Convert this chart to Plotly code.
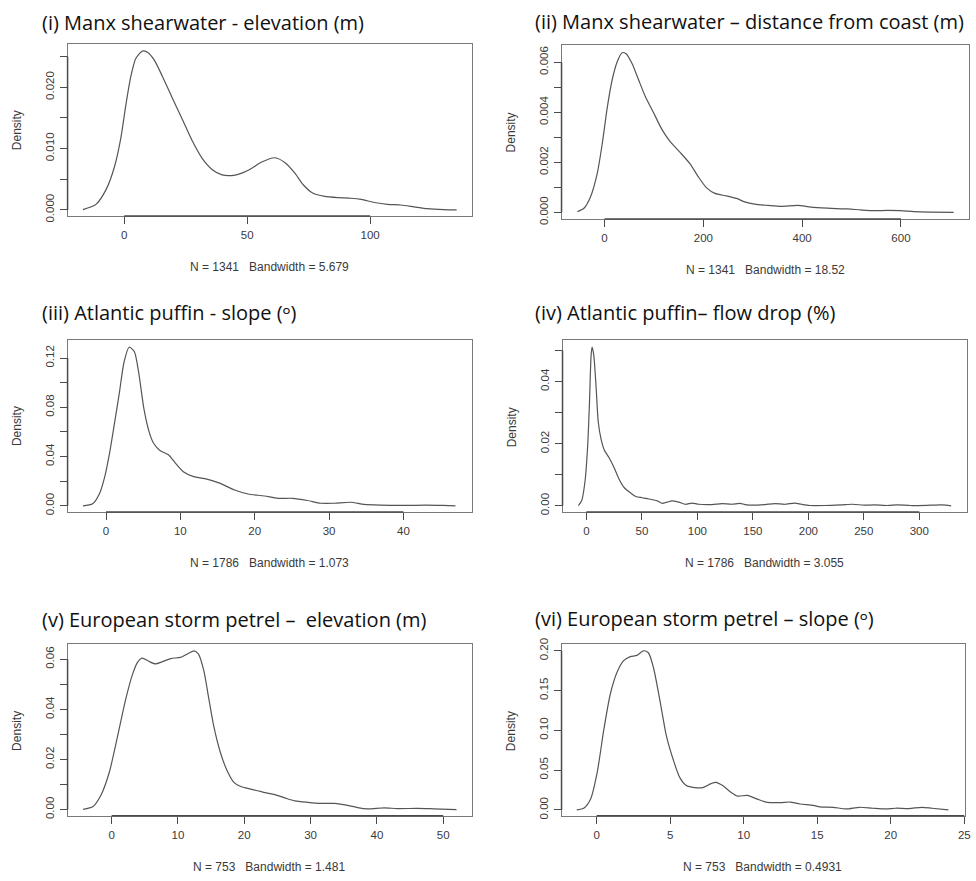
import plotly.graph_objects as go

W, H = 976, 881

# ---- kernel density curves (value, density) ----
elev_msw_x = [-16.8, -11.5, -7.4, -4.0, -1.35, 0.7, 2.7, 4.7, 7.4, 9.4, 12.1, 15.5, 19.5, 23.6, 27.6,
              31.7, 35.7, 39.8, 43.8, 47.8, 51.9, 55.9, 61.3, 65.4, 69.4, 72.8, 76.8, 81.5, 86.9,
              92.3, 96.4, 101.8, 107.1, 112.5, 117.9, 123.3, 130.0, 135.2]
elev_msw_y = [0.00005, 0.0009, 0.0033, 0.0070, 0.0118, 0.0172, 0.0218, 0.0247, 0.0259, 0.0257, 0.0245,
              0.0218, 0.0183, 0.0148, 0.0113, 0.0084, 0.0066, 0.0057, 0.0056, 0.0060, 0.0068, 0.0078,
              0.0085, 0.0077, 0.0060, 0.0041, 0.0027, 0.0022, 0.0020, 0.0019, 0.0017, 0.0012, 0.0009,
              0.0008, 0.0005, 0.0002, 0.00005, 0.0]

coast_msw_x = [-55, -41.6, -28.2, -14.8, -4.7, 5.4, 15.4, 25.5, 35.6, 43.6, 55.7, 69.1, 82.6, 99.3,
               116.1, 132.9, 153, 173.2, 190, 206.7, 223.5, 247, 267.1, 283.9, 304, 330.9, 357.7,
               391.3, 418.1, 451.7, 491.9, 518.8, 545.6, 572.5, 599.3, 626.2, 659.7, 706.7]
coast_msw_y = [0.00003, 0.00017, 0.00063, 0.00155, 0.00273, 0.00417, 0.00529, 0.00601, 0.00638,
               0.00634, 0.00595, 0.00529, 0.00463, 0.00398, 0.00332, 0.00283, 0.0024, 0.00194,
               0.00142, 0.00098, 0.00076, 0.00066, 0.00056, 0.00042, 0.00033, 0.00028, 0.00024,
               0.00028, 0.00021, 0.00017, 0.00014, 0.0001, 0.00007, 0.00008, 0.00007, 0.00003,
               0.00001, 0.0]

slope_puf_x = [-3.1, -1.8, -0.9, -0.2, 0.44, 1.1, 1.8, 2.4, 3.1, 3.8, 4.4, 5.1, 5.8, 6.4, 7.3, 8.4,
               9.3, 10.4, 11.8, 13.3, 15.3, 17.3, 19.1, 21.3, 23.1, 25.1, 27.1, 28.9, 30.7, 32.9,
               34.7, 36.9, 40.0, 43.1, 45.3, 47.0]
slope_puf_y = [0.0, 0.0016, 0.0096, 0.0229, 0.0415, 0.0655, 0.092, 0.116, 0.1288, 0.1253, 0.108,
               0.0788, 0.0601, 0.0508, 0.0447, 0.0415, 0.0349, 0.0277, 0.0237, 0.0221, 0.0184,
               0.0128, 0.0096, 0.008, 0.0061, 0.0061, 0.0043, 0.0021, 0.0021, 0.0029, 0.0011,
               0.0005, 0.0003, 0.0005, 0.0003, 0.0]

flow_puf_x = [-7.2, -4.2, -1.2, 1.2, 2.7, 4.2, 5.1, 6.6, 8.7, 10.7, 13.1, 16.1, 20.6, 25.1, 29.6, 34,
              40, 44.5, 50.4, 56.4, 63.9, 68.4, 72.8, 77.3, 83.3, 89.3, 95.2, 101.2, 113.1, 122.1,
              131, 138.5, 143, 150.4, 160.9, 169.9, 178.8, 187.8, 193.7, 201.2, 214.6, 229.6, 240,
              250.4, 259.4, 271.3, 280.3, 292.2, 310.1, 320.6, 328.7]
flow_puf_y = [0.0001, 0.0017, 0.008, 0.0196, 0.0323, 0.0481, 0.0511, 0.0487, 0.0386, 0.027, 0.0217,
              0.018, 0.0154, 0.0122, 0.0085, 0.0059, 0.0041, 0.003, 0.0026, 0.0022, 0.0016, 0.0008,
              0.0012, 0.0016, 0.0012, 0.0005, 0.0009, 0.0005, 0.0004, 0.0007, 0.0005, 0.0008,
              0.0004, 0.0002, 0.0004, 0.0007, 0.0005, 0.0009, 0.0005, 0.0001, 0.0001, 0.0003,
              0.0005, 0.0002, 0.0003, 0.0001, 0.0003, 0.0001, 0.0002, 0.0003, 0.0]

elev_esp_x = [-4.3, -2.8, -1.6, -0.35, 0.9, 2.1, 3.1, 3.9, 4.6, 5.6, 6.6, 7.6, 8.9, 10.4, 11.6, 12.4,
              13.1, 13.9, 14.6, 15.4, 16.4, 17.4, 18.4, 19.4, 21.1, 23.1, 24.6, 26.1, 27.6, 29.6,
              31.6, 33.6, 35.6, 37.1, 38.6, 41.1, 43.1, 46.1, 48.6, 52.0]
elev_esp_y = [0.0001, 0.0012, 0.0058, 0.0149, 0.0293, 0.0438, 0.0536, 0.0588, 0.0605, 0.0592, 0.0582,
              0.059, 0.0603, 0.0608, 0.0624, 0.0634, 0.0621, 0.0555, 0.0451, 0.0333, 0.0228, 0.0156,
              0.011, 0.0093, 0.0081, 0.0068, 0.006, 0.0047, 0.0035, 0.0029, 0.0025, 0.0025, 0.0017,
              0.0008, 0.0003, 0.0007, 0.0004, 0.0005, 0.0003, 0.0]

slope_esp_x = [-1.35, -0.85, -0.4, 0.04, 0.49, 0.94, 1.39, 1.84, 2.29, 2.74, 3.18, 3.52, 3.86, 4.3,
               4.75, 5.2, 5.65, 6.1, 6.66, 7.22, 7.78, 8.12, 8.57, 9.13, 9.57, 10.25, 10.92, 11.6,
               12.49, 13.16, 13.83, 14.73, 15.18, 16.08, 16.97, 17.87, 18.77, 19.66, 20.34, 21.23,
               22.13, 22.8, 23.92]
slope_esp_y = [0.0, 0.0025, 0.014, 0.0471, 0.1008, 0.1463, 0.1731, 0.1876, 0.1926, 0.1942, 0.2,
               0.1975, 0.1793, 0.138, 0.0926, 0.0636, 0.0409, 0.0306, 0.0281, 0.0281, 0.0331,
               0.0347, 0.0306, 0.0223, 0.0174, 0.0182, 0.0136, 0.0095, 0.0091, 0.0099, 0.0074,
               0.0058, 0.0037, 0.0033, 0.0012, 0.0033, 0.0021, 0.0012, 0.0021, 0.0017, 0.0033,
               0.0021, 0.0]

titles = [
    "(i) Manx shearwater - elevation (m)",
    "(ii) Manx shearwater \u2013 distance from coast (m)",
    "(iii) Atlantic puffin - slope (\u1d52)",
    "(iv) Atlantic puffin\u2013 flow drop (%)",
    "(v) European storm petrel \u2013  elevation (m)",
    "(vi) European storm petrel \u2013 slope (\u1d52)",
]
n_obs = [1341, 1341, 1786, 1786, 753, 753]
bandwidths = ["5.679", "18.52", "1.073", "3.055", "1.481", "0.4931"]

x_ticks = [[0, 50, 100], [0, 200, 400, 600], [0, 10, 20, 30, 40],
           [0, 50, 100, 150, 200, 250, 300], [0, 10, 20, 30, 40, 50], [0, 5, 10, 15, 20, 25]]
y_ticks = [[0, 0.005, 0.010, 0.015, 0.020, 0.025],
           [0, 0.001, 0.002, 0.003, 0.004, 0.005, 0.006],
           [0, 0.02, 0.04, 0.06, 0.08, 0.10, 0.12],
           [0, 0.01, 0.02, 0.03, 0.04, 0.05],
           [0, 0.01, 0.02, 0.03, 0.04, 0.05, 0.06],
           [0, 0.05, 0.10, 0.15, 0.20]]
y_labels = [["0.000", "", "0.010", "", "0.020", ""],
            ["0.000", "", "0.002", "", "0.004", "", "0.006"],
            ["0.00", "", "0.04", "", "0.08", "", "0.12"],
            ["0.00", "", "0.02", "", "0.04", ""],
            ["0.00", "", "0.02", "", "0.04", "", "0.06"],
            ["0.00", "0.05", "0.10", "0.15", "0.20"]]

curves = [(elev_msw_x, elev_msw_y), (coast_msw_x, coast_msw_y), (slope_puf_x, slope_puf_y),
          (flow_puf_x, flow_puf_y), (elev_esp_x, elev_esp_y), (slope_esp_x, slope_esp_y)]

# ---- layout geometry (pixels) ----
boxes = [(68, 475, 39, 213), (565, 975, 40, 216), (68, 475, 339, 513),
         (566, 973, 339, 513), (68, 475, 647, 821), (565, 971, 647, 821)]
x_ranges = [[-23.04, 141.47], [-87.0, 737.7], [-5.17, 49.24], [-21.5, 343.0], [-6.64, 54.35],
            [-2.385, 25.05]]
y_ranges = [[-0.001014, 0.02698], [-0.000264, 0.00667], [-0.00503, 0.13437], [-0.00199, 0.05326],
            [-0.00248, 0.06604], [-0.00744, 0.2083]]
title_pos = [(40, 17), (536, 16), (40, 311), (536, 311), (40, 622), (536, 621)]
sub_pos = [(271.5, 265), (770, 267.7), (271.5, 564.3), (769.3, 564.3), (270.5, 872.7), (767.5, 872.7)]
dens_pos = [(17, 126), (514.3, 128), (17, 426), (515.3, 427), (17, 735), (514.3, 735)]


def px(x):
    return x / W


def py(y):
    return 1 - y / H


SANS = "Liberation Sans, Arial, sans-serif"
TICK_FONT = dict(family=SANS, size=11.5, color="#3a3a3a")
LABEL_FONT = dict(family=SANS, size=12, color="#3a3a3a")
CURVE = "#555555"
BOX = "#7a7a7a"
AXIS = "#4a4a4a"

fig = go.Figure()
layout = dict(width=W, height=H, autosize=False, margin=dict(l=0, r=0, t=0, b=0),
              paper_bgcolor="white", plot_bgcolor="white", showlegend=False)
annotations = []
shapes = []

for i in range(6):
    k = "" if i == 0 else str(i + 1)
    xa, ya = "x" + k, "y" + k
    x0, x1, y0, y1 = boxes[i]
    cx, cy = curves[i]
    fig.add_trace(go.Scatter(x=cx, y=cy, mode="lines", xaxis=xa, yaxis=ya,
                             line=dict(color=CURVE, width=1.2, shape="spline", smoothing=0.7),
                             hoverinfo="skip"))
    layout["xaxis" + k] = dict(
        domain=[px(x0), px(x1)], range=x_ranges[i], anchor=ya,
        showgrid=False, zeroline=False, showline=True, mirror=True,
        linecolor=BOX, linewidth=1,
        tickmode="array", tickvals=x_ticks[i], ticktext=[str(v) for v in x_ticks[i]],
        ticks="outside", ticklen=7, tickwidth=1, tickcolor=AXIS,
        tickfont=TICK_FONT, ticklabelstandoff=1, ticklabeloverflow="allow")
    layout["yaxis" + k] = dict(
        domain=[py(y1), py(y0)], range=y_ranges[i], anchor=xa,
        showgrid=False, zeroline=False, showline=True, mirror=True,
        linecolor=BOX, linewidth=1,
        tickmode="array", tickvals=y_ticks[i], ticktext=y_labels[i], tickangle=-90,
        ticks="outside", ticklen=7, tickwidth=1, tickcolor=AXIS,
        tickfont=TICK_FONT, ticklabelstandoff=1, ticklabeloverflow="allow")
    # darker axis segments spanning first to last tick
    shapes.append(dict(type="line", xref=xa, yref="paper",
                       x0=x_ticks[i][0], x1=x_ticks[i][-1], y0=py(y1), y1=py(y1),
                       line=dict(color=AXIS, width=1.5)))
    shapes.append(dict(type="line", xref="paper", yref=ya,
                       x0=px(x0), x1=px(x0), y0=y_ticks[i][0], y1=y_ticks[i][-1],
                       line=dict(color=AXIS, width=1.5)))
    tx, ty = title_pos[i]
    annotations.append(dict(text=titles[i], xref="paper", yref="paper", x=px(tx), y=py(ty),
                            xanchor="left", yanchor="middle", showarrow=False,
                            font=dict(family="Open Sans, Noto Sans, sans-serif", size=20,
                                      color="#111111")))
    sx, sy = sub_pos[i]
    annotations.append(dict(text=f"N = {n_obs[i]}   Bandwidth = {bandwidths[i]}",
                            xref="paper", yref="paper", x=px(sx), y=py(sy),
                            xanchor="center", yanchor="middle", showarrow=False, font=LABEL_FONT))
    dx, dy = dens_pos[i]
    annotations.append(dict(text="Density", xref="paper", yref="paper", x=px(dx), y=py(dy),
                            xanchor="center", yanchor="middle", textangle=-90, showarrow=False,
                            font=LABEL_FONT))

layout["annotations"] = annotations
layout["shapes"] = shapes
fig.update_layout(**layout)
fig.write_html("out.html")
